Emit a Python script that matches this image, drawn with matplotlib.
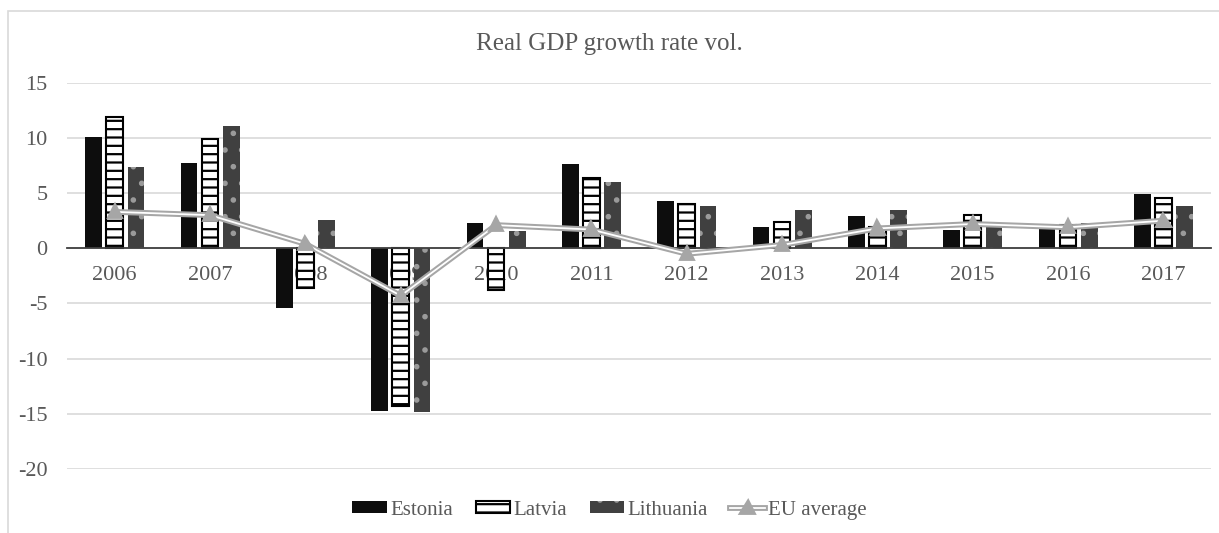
import numpy as np
import matplotlib.pyplot as plt
import matplotlib.patheffects as pe
from matplotlib.patches import Rectangle

years = ['2006', '2007', '2008', '2009', '2010', '2011',
         '2012', '2013', '2014', '2015', '2016', '2017']
estonia = [10.1, 7.7, -5.4, -14.7, 2.3, 7.6, 4.3, 1.9, 2.9, 1.7, 2.1, 4.9]
latvia = [11.9, 9.9, -3.6, -14.3, -3.8, 6.4, 4.0, 2.4, 1.9, 3.0, 2.1, 4.6]
lithuania = [7.4, 11.1, 2.6, -14.8, 1.6, 6.0, 3.8, 3.5, 3.5, 2.0, 2.3, 3.8]
eu_avg = [3.3, 3.0, 0.4, -4.3, 2.1, 1.7, -0.5, 0.3, 1.8, 2.2, 1.9, 2.5]

plt.rcParams['font.family'] = 'Liberation Serif'
plt.rcParams['axes.unicode_minus'] = False
plt.rcParams['hatch.linewidth'] = 1.6
txt = '#595959'

fig = plt.figure(figsize=(12.19, 5.33), dpi=100)
ax = fig.add_axes([0.055, 0.12, 0.9385, 0.7248])

x = np.arange(len(years))
w = 0.175
off = 0.222
b1 = ax.bar(x - off, estonia, w, color='#0d0d0d', linewidth=0, label='Estonia')
b2 = ax.bar(x, latvia, w, facecolor='white', edgecolor='black', hatch='--',
            linewidth=1.5, label='Latvia')
b3 = ax.bar(x + off, lithuania, w, facecolor='#404040', edgecolor='#9a9a9a',
            hatch='.', linewidth=0, label='Lithuania')
ln, = ax.plot(x, eu_avg, color='white', lw=1.3, marker='^', ms=6,
              mfc='#a6a6a6', mec='#a6a6a6', zorder=3, label='EU average',
              path_effects=[pe.Stroke(linewidth=4.2, foreground='#a6a6a6'),
                            pe.Normal()])

ax.set_xlim(-0.5, len(years) - 0.5)
ax.set_ylim(-20, 15)
ax.set_yticks(range(-20, 16, 5))
ax.grid(axis='y', color='#d9d9d9', lw=1.2)
ax.set_axisbelow(True)
for s in ['top', 'right', 'left']:
    ax.spines[s].set_visible(False)
ax.spines['bottom'].set_position(('data', 0))
ax.spines['bottom'].set_color('#404040')
ax.spines['bottom'].set_linewidth(1.3)
ax.set_xticks(x)
ax.set_xticklabels(years)
ax.tick_params(axis='x', length=0, pad=13, labelsize=16, labelcolor=txt)
ax.tick_params(axis='y', length=0, pad=14, labelsize=16, labelcolor=txt)

fig.text(0.5, 0.918, 'Real GDP growth rate vol.', ha='center', va='center',
         fontsize=18, color=txt)

fig.legend([b1, b2, b3, ln], ['Estonia', 'Latvia', 'Lithuania', 'EU average'],
           loc='center', bbox_to_anchor=(0.5, 0.043), ncol=4, frameon=False,
           fontsize=15, labelcolor=txt, handlelength=1.65, handleheight=0.5,
           handletextpad=0.15, columnspacing=1.1, borderpad=0)

# light frame round the chart
fig.add_artist(Rectangle((8 / 1219, -0.05), 1.05, 1 - 11 / 533 + 0.05,
                         transform=fig.transFigure, fill=False,
                         edgecolor='#d9d9d9', lw=1.2))

fig.savefig('out.png', dpi=100)
